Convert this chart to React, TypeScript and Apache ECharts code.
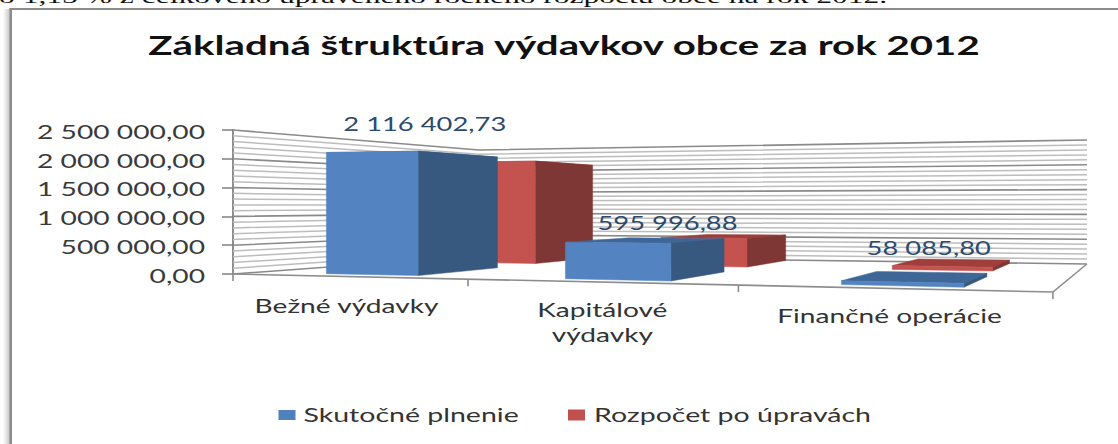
import React, { useEffect, useRef } from "react";
import * as echarts from "echarts";

const categories = ["Bežné výdavky", "Kapitálové\nvýdavky", "Finančné operácie"];
const skutocnePlnenie = [2116402.73, 595996.88, 58085.8];
const rozpocetPoUpravach = [2100000, 550000, 70000];
const yTickValues = [0, 500000, 1000000, 1500000, 2000000, 2500000];
const yTickLabels = ["0,00", "500 000,00", "1 000 000,00", "1 500 000,00", "2 000 000,00", "2 500 000,00"];
const gridValues = [0, 100000, 200000, 300000, 400000, 500000, 600000, 700000, 800000, 900000, 1000000, 1100000, 1200000, 1300000, 1400000, 1500000, 1600000, 1700000, 1800000, 1900000, 2000000, 2100000, 2200000, 2300000, 2400000, 2500000];
const valueLabels = ["2 116 402,73", "595 996,88", "58 085,80"];
const seriesNames = ["Skutočné plnenie", "Rozpočet po úpravách"];
const chartTitle = "Základná štruktúra výdavkov obce za rok 2012";
const clippedLine = "o 1,15 % z celkového upraveného ročného rozpočtu obce na rok 2012.";

const FONT = "Lato";

// --- 3D projection of the picture's box: u = category position, d = depth, w = height share
const tOfU = (u: number) => (219.6 * u) / (1 - 0.0655 * u) / 820;
const lerp = (a: number, b: number, k: number) => a + (b - a) * k;
function project(u: number, d: number, w: number): [number, number] {
  const t = tOfU(u);
  const x = lerp(lerp(233, 1053, t), lerp(479, 1087, t), d);
  const y = lerp(lerp(274, 292, t), lerp(256, 264, t), d);
  const h = lerp(lerp(144, 180, t), lerp(106, 124, t), d);
  return [x, y - h * w];
}

function label(text: string, x: number, y: number, size: number, scaleX: number, fill: string, align = "center", extra: any = {}) {
  return {
    type: "text",
    x,
    y,
    scaleX,
    silent: true,
    style: {
      text,
      fill,
      fontFamily: FONT,
      fontSize: size,
      align,
      verticalAlign: "middle",
      textAlign: align,
      textVerticalAlign: "middle",
      ...extra,
    },
  };
}

const poly = (points: number[][], fill: string) => ({
  type: "polygon",
  shape: { points },
  style: { fill, stroke: fill, lineWidth: 0.5 },
});
const line = (points: number[][], stroke: string, lineWidth: number) => ({
  type: "polyline",
  shape: { points },
  style: { stroke, lineWidth, fill: "none" },
});

function barRenderer(d0: number, d1: number, uA: number, uB: number, front: string, side: string, top: string, withLabels: boolean) {
  return (params: any, api: any) => {
    const i = api.value(0);
    const p = api.coord([i, api.value(1)]);
    const base = api.coord([i, 0]);
    const cs = params.coordSys;
    const band = cs.width / categories.length;
    const u0 = (p[0] - cs.x) / band - 0.5;
    const w = (base[1] - p[1]) / cs.height;
    const uL = u0 + uA;
    const uR = u0 + uB;
    const a = project(uL, d0, 0), b = project(uR, d0, 0), c = project(uR, d1, 0);
    const a2 = project(uL, d0, w), b2 = project(uR, d0, w), c2 = project(uR, d1, w), e2 = project(uL, d1, w);
    const children: any[] = [
      poly([a2, b2, c2, e2], top),
      poly([b, c, c2, b2], side),
      poly([a, b, b2, a2], front),
    ];
    if (withLabels) {
      const anchor = project((uL + uR) / 2, 0.3, w);
      children.push(label(valueLabels[params.dataIndex], anchor[0] + [10, 20, 12][i], anchor[1] + [-31, -18, -29][i], 19, 1.44, "#2c4a6e"));
    }
    return { type: "group", children };
  };
}

export default function App() {
  const ref = useRef<HTMLDivElement>(null);
  useEffect(() => {
    document.body.style.margin = "0";
    document.body.style.background = "#fff";
    const chart = echarts.init(ref.current!, null, { renderer: "svg" });
    chart.setOption({
      animation: false,
      backgroundColor: "#ffffff",
      grid: { left: 233, top: 130, width: 820, height: 144, containLabel: false },
      xAxis: {
        type: "category",
        data: categories,
        axisLine: { show: false },
        axisTick: { show: false },
        axisLabel: { show: false },
      },
      yAxis: {
        type: "value",
        min: 0,
        max: 2500000,
        interval: 500000,
        splitLine: { show: false },
        axisLabel: { show: false },
        axisLine: { show: true, lineStyle: { color: "#8e8e8e", width: 2 } },
        axisTick: { show: true, length: 11, lineStyle: { color: "#7f7f7f", width: 1.5 } },
      },
      graphic: [
        {
          type: "rect",
          shape: { x: 3, y: 9, width: 7, height: 440 },
          style: {
            fill: new echarts.graphic.LinearGradient(0, 0, 1, 0, [
              { offset: 0, color: "rgba(170,170,170,0)" },
              { offset: 1, color: "rgba(170,170,170,0.7)" },
            ]),
          },
        },
        { type: "rect", shape: { x: 9.5, y: 8, width: 1110, height: 2 }, style: { fill: "#8c8c8c" } },
        { type: "rect", shape: { x: 9.5, y: 8, width: 2.5, height: 440 }, style: { fill: "#8c8c8c" } },
        label(clippedLine, -1, -3, 19, 1.66, "#111111", "left", { fontFamily: "Liberation Serif" }),
        label(chartTitle, 564, 44, 27, 1.49, "#111111", "center", { fontWeight: "bold" }),
        { type: "rect", shape: { x: 278.5, y: 410, width: 17, height: 10 }, style: { fill: "#4f81bd" } },
        label(seriesNames[0], 303.5, 415, 19, 1.5, "#333333", "left"),
        { type: "rect", shape: { x: 568, y: 409.5, width: 17, height: 11 }, style: { fill: "#c0504d" } },
        label(seriesNames[1], 594, 415, 19, 1.5, "#333333", "left"),
      ],
      series: [
        {
          type: "custom",
          name: "grid",
          coordinateSystem: "cartesian2d",
          silent: true,
          z: 1,
          data: gridValues.map((v) => [0, v]),
          renderItem: (params: any, api: any) => {
            const v = api.value(1);
            const cs = params.coordSys;
            const w = (api.coord([0, 0])[1] - api.coord([0, v])[1]) / cs.height;
            const major = yTickValues.includes(v);
            return line(
              [project(0, 0, w), project(0, 1, w), project(3, 1, w)],
              major ? "#8a8a8a" : "#bdbdbd",
              major ? 1.6 : 1.5,
            );
          },
        },
        {
          type: "custom",
          name: "floor",
          coordinateSystem: "cartesian2d",
          silent: true,
          z: 1,
          data: categories.map((_, i) => [i, 0]).concat([[3, 0]]),
          renderItem: (params: any, api: any) => {
            const u = params.dataIndex;
            const p = project(u, 0, 0);
            const children: any[] = [line([p, [p[0], p[1] + 7]], "#8c8c8c", 1.6)];
            if (u === 0) {
              children.push(line([project(0, 0, 0), project(3, 0, 0), project(3, 1, 0)], "#8c8c8c", 1.6));
            }
            return { type: "group", children };
          },
        },
        {
          type: "custom",
          name: seriesNames[1],
          coordinateSystem: "cartesian2d",
          silent: true,
          z: 2,
          data: rozpocetPoUpravach.map((v, i) => [i, v]),
          renderItem: barRenderer(0.7, 0.98, 0.3, 0.69, "#c4534f", "#7f3735", "#a03e3b", false),
        },
        {
          type: "custom",
          name: seriesNames[0],
          coordinateSystem: "cartesian2d",
          silent: true,
          z: 3,
          data: skutocnePlnenie.map((v, i) => [i, v]),
          renderItem: barRenderer(0.1, 0.49, 0.315, 0.715, "#5384c1", "#37597f", "#3e6797", true),
        },
        {
          type: "custom",
          name: "y labels",
          coordinateSystem: "cartesian2d",
          silent: true,
          z: 4,
          data: yTickValues.map((v) => [0, v]),
          renderItem: (params: any, api: any) => {
            const p = api.coord([0, api.value(1)]);
            return label(yTickLabels[params.dataIndex], 205, p[1] + 1, 20, 1.41, "#3a3a3a", "right");
          },
        },
        {
          type: "custom",
          name: "category labels",
          coordinateSystem: "cartesian2d",
          silent: true,
          z: 4,
          data: categories.map((_, i) => [i, 0]),
          renderItem: (params: any, api: any) => {
            const i = params.dataIndex;
            const p = project(i + 0.5, 0, 0);
            return label(categories[i], p[0] + [0, 4, 0][i], p[1] + [29, 40, 27][i], 19, 1.48, "#333333", "center", { lineHeight: 25 });
          },
        },
      ],
    });
    return () => chart.dispose();
  }, []);
  return <div ref={ref} style={{ width: 1118, height: 444, overflow: "hidden" }} />;
}
